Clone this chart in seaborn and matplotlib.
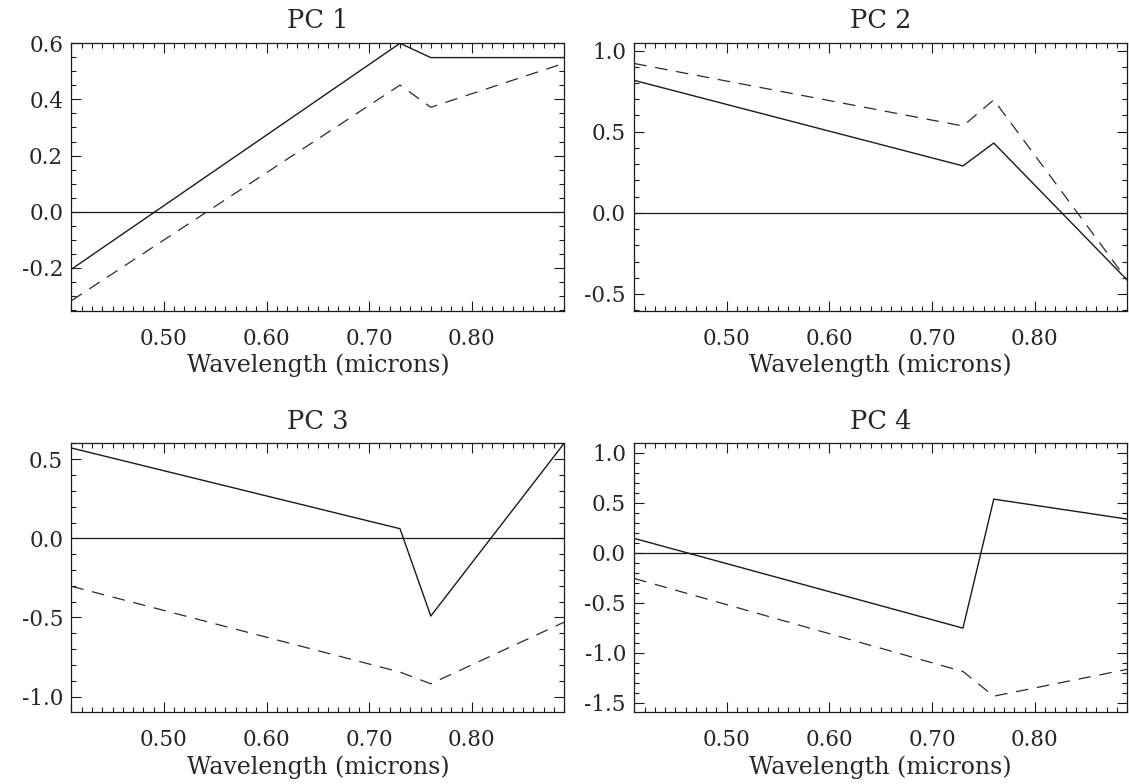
import numpy as np
import pandas as pd
import matplotlib
matplotlib.use("Agg")
import matplotlib.pyplot as plt
import seaborn as sns
from matplotlib.ticker import MultipleLocator, FormatStrFormatter

# ---- data ----
wavelength = [0.41, 0.73, 0.76, 0.89]
panel_titles = ["PC 1", "PC 2", "PC 3", "PC 4"]

pc1_solid = [-0.205, 0.600, 0.549, 0.549]
pc1_dashed = [-0.317, 0.451, 0.372, 0.529]
pc2_solid = [0.816, 0.289, 0.430, -0.415]
pc2_dashed = [0.920, 0.535, 0.696, -0.415]
pc3_solid = [0.571, 0.061, -0.491, 0.602]
pc3_dashed = [-0.303, -0.845, -0.919, -0.529]
pc4_solid = [0.144, -0.754, 0.537, 0.337]
pc4_dashed = [-0.257, -1.188, -1.435, -1.166]

solid_series = [pc1_solid, pc2_solid, pc3_solid, pc4_solid]
dashed_series = [pc1_dashed, pc2_dashed, pc3_dashed, pc4_dashed]

y_limits = [(-0.354, 0.602), (-0.605, 1.048), (-1.099, 0.601), (-1.596, 1.096)]
y_major = [0.2, 0.5, 0.5, 0.5]
y_minor = [0.05, 0.1, 0.1, 0.1]
x_ticks = [0.50, 0.60, 0.70, 0.80]
x_label = "Wavelength (microns)"

rows = []
for i, title in enumerate(panel_titles):
    for w, v in zip(wavelength, solid_series[i]):
        rows.append({"panel": title, "wavelength": w, "value": v, "kind": "solid"})
    for w, v in zip(wavelength, dashed_series[i]):
        rows.append({"panel": title, "wavelength": w, "value": v, "kind": "dashed"})
df = pd.DataFrame(rows)

sns.set_style("ticks")
plt.rcParams["font.family"] = ["DejaVu Serif"]
plt.rcParams["axes.unicode_minus"] = True

fig = plt.figure(figsize=(11.29, 7.84), dpi=100)
positions = [
    [0.0633, 0.6033, 0.4365, 0.3422],
    [0.5618, 0.6033, 0.4367, 0.3422],
    [0.0633, 0.0915, 0.4365, 0.3431],
    [0.5618, 0.0915, 0.4367, 0.3431],
]

ink = "#1a1a1a"
for i, title in enumerate(panel_titles):
    ax = fig.add_axes(positions[i])
    sub = df[df["panel"] == title]
    sns.lineplot(data=sub[sub["kind"] == "solid"], x="wavelength", y="value",
                 ax=ax, color=ink, linewidth=1.0, sort=False,
                 estimator=None, errorbar=None)
    sns.lineplot(data=sub[sub["kind"] == "dashed"], x="wavelength", y="value",
                 ax=ax, color="#2a2a2a", linewidth=0.9, sort=False,
                 estimator=None, errorbar=None)
    ax.lines[-1].set_linestyle((0, (10, 7)))
    ax.axhline(0, color=ink, linewidth=0.9)

    ax.set_xlim(wavelength[0], wavelength[-1])
    ax.set_ylim(*y_limits[i])
    ax.set_xticks(x_ticks)
    ax.xaxis.set_major_formatter(FormatStrFormatter("%.2f"))
    ax.xaxis.set_minor_locator(MultipleLocator(0.01))
    ax.yaxis.set_major_locator(MultipleLocator(y_major[i]))
    ax.yaxis.set_minor_locator(MultipleLocator(y_minor[i]))
    ax.yaxis.set_major_formatter(FormatStrFormatter("%.1f"))

    ax.tick_params(which="both", direction="in", top=True, right=True,
                   color=ink, width=0.8)
    ax.tick_params(which="major", length=7, labelsize=15.5)
    ax.tick_params(which="minor", length=3.8)
    ax.tick_params(axis="x", which="major", pad=12)
    ax.tick_params(axis="y", which="major", pad=6)
    for s in ax.spines.values():
        s.set_linewidth(0.9)
        s.set_color(ink)
    ax.set_xlabel(x_label, fontsize=17, labelpad=3)
    ax.set_ylabel("")
    ax.set_title(title, fontsize=18.5, pad=10.5)

fig.savefig("out.png", dpi=100, facecolor="white")
